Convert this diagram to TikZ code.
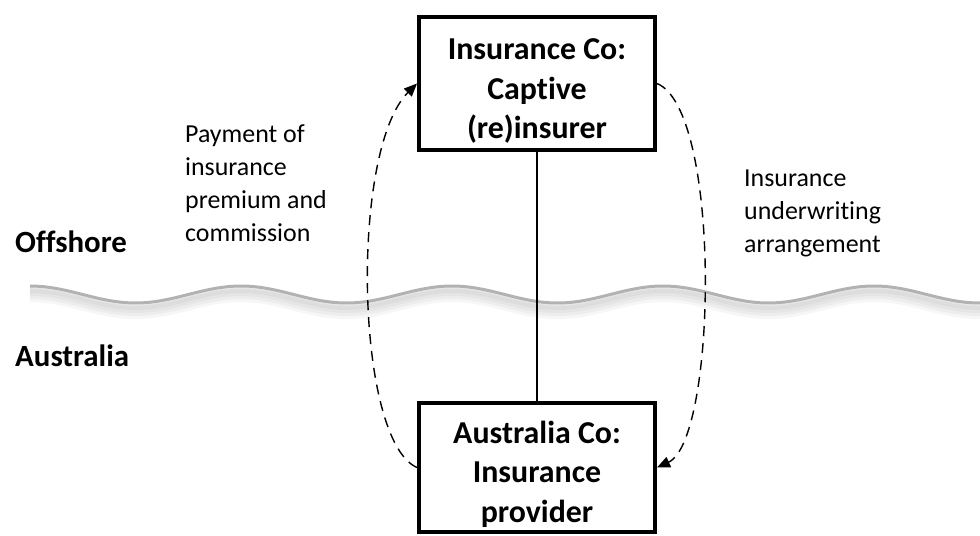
\documentclass[tikz,border=0pt]{standalone}
\usepackage{fontspec}
\setmainfont{Carlito}[Ligatures=NoCommon]
\usetikzlibrary{arrows.meta}
\newcommand{\boxstrut}{\rule{0pt}{36bp}}
\tikzset{
    box/.style = {draw=black, line width=4bp, align=center, inner sep=0pt, minimum width=236bp, font=\bfseries\fontsize{32}{40}\selectfont},
    lbl/.style = {align=left, inner sep=0pt, anchor=north west, font=\fontsize{26}{33}\selectfont},
    side/.style = {inner sep=0pt, anchor=base west, font=\bfseries\fontsize{31}{38}\selectfont},
    flow/.style = {line width=1.4bp, dash pattern=on 10bp off 7bp, -{Triangle[length=13bp, width=11bp]}},
    link/.style = {line width=1.6bp},
    sea/.style = {draw=black!30, line width=3bp},
    seashadow/.style = {draw=black, line width=#1, opacity=0.035}
}

\begin{document}
\begin{tikzpicture}[x=1bp, y=-1bp]
    \useasboundingbox (0,0) rectangle (980,536);

    \foreach \w/\d in {16/8, 12/7, 8/6, 4/5}
        \draw[seashadow=\w bp] plot[domain=30:980, samples=200] (\x, {294.5+\d-8.5*cos(1.70616*(\x-30))});
    \draw[sea] plot[domain=30:980, samples=200] (\x, {294.5-8.5*cos(1.70616*(\x-30))});

    \node[box, minimum height=133bp] (captive) at (537,83.5) {\boxstrut Insurance Co:\\Captive\\(re)insurer};
    \node[box, minimum height=129bp] (provider) at (537,467.5) {\boxstrut Australia Co:\\Insurance\\provider};

    \node[side] (offshore) at (15,253) {Offshore};
    \node[side] (australia) at (15,367) {Australia};

    \node[lbl] (payment) at (185,125) {Payment of\\insurance\\premium and\\commission};
    \node[lbl] (underwriting) at (744,170) {Insurance\\underwriting\\arrangement};

    \draw[link] (captive.south) -- (provider.north);
    \draw[flow] (provider.west) .. controls (355,440) and (350,150) .. (captive.west);
    \draw[flow] (captive.east) .. controls (722,110) and (717,440) .. (provider.east);
\end{tikzpicture}
\end{document}
